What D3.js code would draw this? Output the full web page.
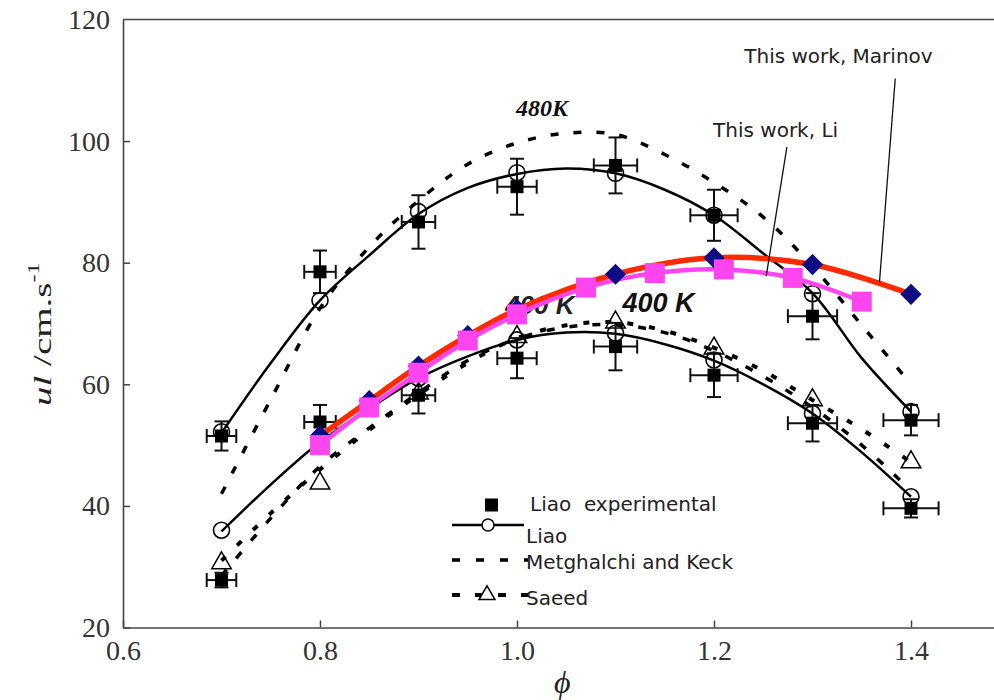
<!DOCTYPE html>
<html lang="en">
<head>
    <meta charset="UTF-8">
    <title>Laminar burning velocity vs equivalence ratio</title>
    <style>
        body {
            margin: 0;
            background-color: #FFFFFF;
        }
        svg {
            display: block;
        }
        .legend text, .note {
            font-family: "DejaVu Sans", Arial, sans-serif;
            font-size: 20px;
            fill: #222;
            white-space: pre;
        }
    </style>
</head>
<body>
    <div id="chart"></div>

    <script src="https://d3js.org/d3.v7.min.js"></script>
    <script>
        // ---- data ----
        // smooth model curves, sampled every 0.05 in phi
        const phiCurve = [0.70, 0.75, 0.80, 0.85, 0.90, 0.95, 1.00, 1.05, 1.10, 1.15, 1.20, 1.25, 1.30, 1.35, 1.40];
        const liao480 = [52.0, 63.5, 73.8, 81.2, 88.0, 92.3, 94.6, 95.5, 94.7, 92.0, 87.8, 81.5, 75.0, 64.3, 55.5];
        const metg480 = [42.0, 57.5, 72.5, 82.6, 90.2, 96.2, 99.7, 101.3, 101.1, 97.8, 93.2, 87.5, 79.4, 69.7, 60.0];
        const liao400 = [35.8, 43.5, 50.5, 56.0, 61.0, 64.6, 67.3, 68.5, 68.3, 66.6, 63.9, 60.0, 55.2, 48.8, 41.5];
        const metg400 = [28.5, 38.0, 46.5, 52.8, 58.6, 63.9, 67.5, 69.4, 69.8, 68.5, 65.5, 61.3, 56.2, 50.0, 42.5];
        const saeed400 = [31.0, 38.8, 46.0, 52.5, 58.3, 63.5, 67.6, 69.7, 70.2, 68.8, 66.0, 62.2, 57.4, 52.6, 47.2];

        // point data at phi = 0.7 ... 1.4
        const phiPts = [0.7, 0.8, 0.9, 1.0, 1.1, 1.2, 1.3, 1.4];
        const exp480 = [51.5, 78.5, 86.7, 92.5, 96.0, 87.8, 71.2, 54.1];
        const errY480 = [2.4, 3.5, 4.4, 4.6, 4.6, 4.2, 3.8, 2.5];
        const circ480 = [52.2, 73.8, 88.4, 94.8, 94.7, 87.8, 74.9, 55.5];
        const exp400 = [27.8, 53.8, 58.2, 64.3, 66.2, 61.5, 53.6, 39.6];
        const errY400 = [1.2, 2.8, 3.0, 3.3, 3.9, 3.6, 3.0, 1.5];
        const circ400 = [36.0, 50.5, 61.0, 67.3, 68.4, 64.0, 55.2, 41.5];
        const tri400 = [30.6, 43.7, 58.5, 67.8, 70.2, 65.9, 57.4, 47.2];
        const errX = [0.015, 0.016, 0.017, 0.020, 0.022, 0.024, 0.025, 0.028];

        // this work
        const phiMarinov = [0.80, 0.85, 0.90, 0.95, 1.00, 1.10, 1.20, 1.30, 1.40];
        const uMarinov = [51.5, 57.3, 63.0, 68.0, 72.3, 78.1, 80.8, 79.7, 74.8];
        const phiLi = [0.80, 0.85, 0.90, 0.95, 1.00, 1.07, 1.14, 1.21, 1.28, 1.35];
        const uLi = [50.0, 56.2, 61.9, 67.2, 71.5, 75.9, 78.3, 78.9, 77.5, 73.6];

        const xTicks = [0.6, 0.8, 1.0, 1.2, 1.4];
        const yTicks = [20, 40, 60, 80, 100, 120];

        const legendLabels = ["Liao  experimental", "Liao", "Metghalchi and Keck", "Saeed"];

        // ---- setup ----
        const width = 994;
        const height = 700;
        const serif = "Liberation Serif, Times New Roman, serif";

        const svg = d3.select("#chart")
            .append("svg")
            .attr("width", width)
            .attr("height", height);

        const x = d3.scaleLinear().domain([0.6, 1.5]).range([123, 1009.5]);
        const y = d3.scaleLinear().domain([20, 120]).range([627.5, 19.5]);

        const pairs = (xs, ys) => xs.map((p, i) => [p, ys[i]]);

        const curve = d3.line()
            .x(d => x(d[0]))
            .y(d => y(d[1]))
            .curve(d3.curveCatmullRom.alpha(0.5));

        // ghost "400 K" label partly hidden behind the curves
        svg.append("text")
            .attr("x", x(0.988))
            .attr("y", y(71.6))
            .attr("font-family", "Liberation Sans, Arial, sans-serif")
            .attr("font-size", 26)
            .attr("font-style", "italic")
            .attr("font-weight", "bold")
            .attr("fill", "#222")
            .text("400 K");

        // dashed model curves
        function dashed(data, dash, w) {
            svg.append("path")
                .datum(data)
                .attr("d", curve)
                .attr("fill", "none")
                .attr("stroke", "#000")
                .attr("stroke-width", w)
                .attr("stroke-dasharray", dash);
        }
        dashed(pairs(phiCurve, metg480), "8,15", 3.5);
        dashed(pairs(phiCurve, metg400), "8,15", 3.5);
        dashed(pairs(phiCurve, saeed400), "6,16", 4);

        // Liao solid curves
        [liao480, liao400].forEach(vals => {
            svg.append("path")
                .datum(pairs(phiCurve, vals))
                .attr("d", curve)
                .attr("fill", "none")
                .attr("stroke", "#000")
                .attr("stroke-width", 2.5);
        });

        // Liao model circles
        [circ480, circ400].forEach(vals => {
            svg.selectAll(null)
                .data(pairs(phiPts, vals))
                .join("circle")
                .attr("cx", d => x(d[0]))
                .attr("cy", d => y(d[1]))
                .attr("r", 8)
                .attr("fill", "none")
                .attr("stroke", "#000")
                .attr("stroke-width", 1.6);
        });

        // Saeed triangles
        const triangle = d3.symbol().type(d3.symbolTriangle).size(165);
        svg.selectAll(null)
            .data(pairs(phiPts, tri400))
            .join("path")
            .attr("d", triangle)
            .attr("transform", d => `translate(${x(d[0])},${y(d[1])})`)
            .attr("fill", "none")
            .attr("stroke", "#000")
            .attr("stroke-width", 1.5);

        // Liao experimental: error bars and squares
        function experimental(vals, errs) {
            const g = svg.append("g").attr("stroke", "#111").attr("stroke-width", 2);
            vals.forEach((v, i) => {
                const px = x(phiPts[i]);
                const py = y(v);
                const yTop = y(v + errs[i]);
                const yBot = y(v - errs[i]);
                const xL = x(phiPts[i] - errX[i]);
                const xR = x(phiPts[i] + errX[i]);
                g.append("line").attr("x1", px).attr("x2", px).attr("y1", yTop).attr("y2", yBot);
                g.append("line").attr("x1", px - 7).attr("x2", px + 7).attr("y1", yTop).attr("y2", yTop);
                g.append("line").attr("x1", px - 7).attr("x2", px + 7).attr("y1", yBot).attr("y2", yBot);
                g.append("line").attr("x1", xL).attr("x2", xR).attr("y1", py).attr("y2", py);
                g.append("line").attr("x1", xL).attr("x2", xL).attr("y1", py - 7).attr("y2", py + 7);
                g.append("line").attr("x1", xR).attr("x2", xR).attr("y1", py - 7).attr("y2", py + 7);
            });
            svg.selectAll(null)
                .data(pairs(phiPts, vals))
                .join("rect")
                .attr("x", d => x(d[0]) - 6.5)
                .attr("y", d => y(d[1]) - 6.5)
                .attr("width", 13)
                .attr("height", 13)
                .attr("fill", "#000");
        }
        experimental(exp480, errY480);
        experimental(exp400, errY400);

        // this work: Marinov (red) and Li (magenta)
        svg.append("path")
            .datum(pairs(phiMarinov, uMarinov))
            .attr("d", curve)
            .attr("fill", "none")
            .attr("stroke", "#ff2a00")
            .attr("stroke-width", 5.5);

        svg.append("path")
            .datum(pairs(phiLi, uLi))
            .attr("d", curve)
            .attr("fill", "none")
            .attr("stroke", "#ff45f0")
            .attr("stroke-width", 4.5);

        svg.selectAll(null)
            .data(pairs(phiMarinov, uMarinov))
            .join("rect")
            .attr("x", -7.5)
            .attr("y", -7.5)
            .attr("width", 15)
            .attr("height", 15)
            .attr("transform", d => `translate(${x(d[0])},${y(d[1])}) rotate(45)`)
            .attr("fill", "#0c0c84");

        svg.selectAll(null)
            .data(pairs(phiLi, uLi))
            .join("rect")
            .attr("x", d => x(d[0]) - 10)
            .attr("y", d => y(d[1]) - 10)
            .attr("width", 20)
            .attr("height", 20)
            .attr("fill", "#ff45f0");

        // leader lines + notes
        const notes = [
            { text: "This work, Li", tx: 1.326, ty: 100.7, from: [1.274, 99.0], to: [1.253, 77.8] },
            { text: "This work, Marinov", tx: 1.422, ty: 112.8, from: [1.384, 110.3], to: [1.368, 76.8] }
        ];
        notes.forEach(n => {
            svg.append("line")
                .attr("x1", x(n.from[0])).attr("y1", y(n.from[1]))
                .attr("x2", x(n.to[0])).attr("y2", y(n.to[1]))
                .attr("stroke", "#111")
                .attr("stroke-width", 1.3);
            svg.append("text")
                .attr("class", "note")
                .attr("x", x(n.tx))
                .attr("y", y(n.ty))
                .attr("text-anchor", "end")
                .text(n.text);
        });

        // temperature labels
        svg.append("text")
            .attr("x", x(0.999))
            .attr("y", y(104.1))
            .attr("font-family", serif)
            .attr("font-size", 24)
            .attr("font-style", "italic")
            .attr("font-weight", "bold")
            .attr("fill", "#111")
            .text("480K");

        svg.append("text")
            .attr("x", x(1.107))
            .attr("y", y(71.9))
            .attr("font-family", "Liberation Sans, Arial, sans-serif")
            .attr("font-size", 27)
            .attr("font-style", "italic")
            .attr("font-weight", "bold")
            .attr("fill", "#111")
            .text("400 K");

        // legend
        const legend = svg.append("g").attr("class", "legend");
        const rowText = [511, 543, 569, 605];
        const rowMark = [505, 525, 560, 595];

        legend.append("rect")
            .attr("x", 485).attr("y", rowMark[0] - 6.5)
            .attr("width", 13).attr("height", 13)
            .attr("fill", "#000");

        legend.append("line")
            .attr("x1", 452).attr("x2", 524)
            .attr("y1", rowMark[1]).attr("y2", rowMark[1])
            .attr("stroke", "#000").attr("stroke-width", 2.5);
        legend.append("circle")
            .attr("cx", 488).attr("cy", rowMark[1]).attr("r", 6)
            .attr("fill", "#fff").attr("stroke", "#000").attr("stroke-width", 1.5);

        legend.append("line")
            .attr("x1", 452).attr("x2", 528)
            .attr("y1", rowMark[2]).attr("y2", rowMark[2])
            .attr("stroke", "#000").attr("stroke-width", 3.5)
            .attr("stroke-dasharray", "8,16");

        legend.append("line")
            .attr("x1", 452).attr("x2", 528)
            .attr("y1", rowMark[3]).attr("y2", rowMark[3])
            .attr("stroke", "#000").attr("stroke-width", 4)
            .attr("stroke-dasharray", "8,15");
        legend.append("path")
            .attr("d", d3.symbol().type(d3.symbolTriangle).size(110))
            .attr("transform", `translate(487,${rowMark[3]})`)
            .attr("fill", "#fff").attr("stroke", "#000").attr("stroke-width", 1.5);

        legendLabels.forEach((t, i) => {
            legend.append("text")
                .attr("x", i === 0 ? 530 : 526)
                .attr("y", rowText[i])
                .text(t);
        });

        // axes
        const xAxis = d3.axisBottom(x)
            .tickValues(xTicks)
            .tickFormat(d3.format(".1f"))
            .tickSizeInner(-7)
            .tickSizeOuter(0)
            .tickPadding(13);
        const yAxis = d3.axisLeft(y)
            .tickValues(yTicks)
            .tickSizeInner(-7)
            .tickSizeOuter(0)
            .tickPadding(13);

        const gx = svg.append("g")
            .attr("transform", `translate(0,${y(20)})`)
            .call(xAxis);
        const gy = svg.append("g")
            .attr("transform", `translate(${x(0.6)},0)`)
            .call(yAxis);
        [gx, gy].forEach(g => {
            g.attr("font-family", serif).attr("font-size", 28);
            g.select(".domain").attr("stroke", "#444").attr("stroke-width", 1.6);
            g.selectAll(".tick line").attr("stroke", "#444").attr("stroke-width", 1.5);
            g.selectAll(".tick text").attr("fill", "#333");
        });
        gy.select(".tick:last-of-type line").remove();

        // top frame line
        svg.append("line")
            .attr("x1", x(0.6)).attr("x2", width)
            .attr("y1", y(120)).attr("y2", y(120))
            .attr("stroke", "#444")
            .attr("stroke-width", 1.6);

        // axis titles
        svg.append("text")
            .attr("x", 554)
            .attr("y", 693)
            .attr("font-family", serif)
            .attr("font-size", 32)
            .attr("font-style", "italic")
            .attr("fill", "#222")
            .text("\u03D5");

        const yTitle = svg.append("text")
            .attr("transform", "translate(51,406) rotate(-90) scale(1.5,1)")
            .attr("font-family", serif)
            .attr("font-size", 26)
            .attr("fill", "#222");
        yTitle.append("tspan").attr("font-style", "italic").text("ul");
        yTitle.append("tspan").text(" /cm.s");
        yTitle.append("tspan").attr("font-size", 16).attr("dy", -12).text("-1");
    </script>
</body>
</html>
